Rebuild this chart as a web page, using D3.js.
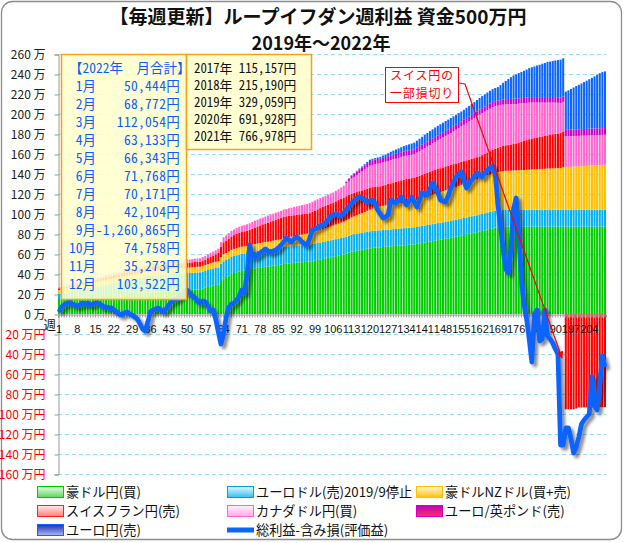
<!DOCTYPE html>
<html><head><meta charset="utf-8">
<script src="https://cdn.jsdelivr.net/npm/d3@7"></script>
<style>body{margin:0;background:#fff}svg{display:block}</style>
</head><body>
<svg id="c" width="624" height="543"></svg>
<script>
// ---------- DATA (values in 万円) ----------
const weeks = d3.range(1, 211);
const weekTicks = [1,8,15,22,29,36,43,50,57,64,71,78,85,92,99,106,113,120,127,134,141,148,155,162,169,176,183,190,197,204];
const yTicks = [-160,-140,-120,-100,-80,-60,-40,-20,0,20,40,60,80,100,120,140,160,180,200,220,240,260];

const audjpy = [15.0,15.2,15.4,15.6,15.8,16.0,16.2,16.4,16.5,16.7,
16.9,17.1,17.3,17.5,17.6,17.8,18.0,18.2,18.4,18.6,
18.8,18.9,19.1,19.3,19.5,19.7,19.9,20.0,20.2,20.4,
20.6,20.8,20.9,21.1,21.3,21.5,21.6,21.8,22.0,22.1,
22.3,22.5,22.7,22.8,23.0,23.2,23.4,23.5,23.7,23.9,
24.0,24.2,24.4,24.6,24.7,25.5,26.2,27.0,27.8,28.4,
29.0,29.5,33.0,35.7,37.0,38.5,40.0,41.0,41.8,42.5,
43.0,43.5,44.0,44.7,45.2,45.6,46.0,46.4,46.8,47.2,
47.5,47.9,48.3,48.7,49.0,49.4,50.0,50.3,50.6,50.9,
51.2,51.4,51.6,51.8,52.0,52.2,52.3,52.9,53.5,54.0,
54.5,55.0,55.6,56.1,56.7,57.3,57.8,58.4,59.0,59.6,
60.5,61.5,62.3,62.8,63.3,63.8,64.3,64.8,65.3,65.7,
66.0,66.3,66.5,66.7,67.0,67.2,67.4,67.6,67.9,68.1,
68.3,68.6,68.8,69.0,69.2,69.5,69.7,70.1,70.6,71.0,
71.5,72.0,72.4,72.9,73.4,73.9,74.3,74.8,75.3,75.7,
76.2,76.8,77.3,77.9,78.4,79.0,79.6,80.1,80.7,81.2,
81.8,82.3,83.0,83.7,84.4,85.0,85.7,86.3,86.8,87.0,
87.2,87.3,87.3,87.3,87.3,87.3,87.3,87.3,87.3,87.3,
87.3,87.3,87.3,87.3,87.3,87.3,87.3,87.3,87.3,87.3,
87.3,87.3,87.3,87.3,87.3,87.3,87.3,87.3,87.3,87.3,
87.3,87.3,87.3,87.3,87.3,87.3,87.3,87.3,87.3,87.3];

const eurusd = [5.0,5.3,5.7,6.0,6.3,6.7,7.0,7.4,7.7,8.0,
8.4,8.7,9.0,9.4,9.7,10.0,10.4,10.7,11.0,11.4,
11.7,12.0,12.4,12.7,13.0,13.4,13.7,14.0,14.4,14.7,
15.0,15.4,15.7,16.0,16.4,16.7,17.0,17.0,17.0,17.0,
17,17,17,17,17,17,17,17,17,17, 17,17,17,17,17,17,17,17,17,17,
17,17,17,17,17,17,17,17,17,17, 17,17,17,17,17,17,17,17,17,17,
17,17,17,17,17,17,17,17,17,17, 17,17,17,17,17,17,17,17,17,17,
17,17,17,17,17,17,17,17,17,17, 17,17,17,17,17,17,17,17,17,17,
17,17,17,17,17,17,17,17,17,17, 17,17,17,17,17,17,17,17,17,17,
17,17,17,17,17,17,17,17,17,17, 17,17,17,17,17,17,17,17,17,17,
17,17,17,17,17,17,17,17,17,17, 17,17,17,17,17,17,17,17,17,17,
17,17,17,17,17,17,17,17,17,17, 17,17,17,17,17,17,17,17,17,17,
17,17,17,17,17,17,17,17,17,17];

const audnzd = [4.0,4.0,4.1,4.1,4.2,4.2,4.2,4.3,4.3,4.4,
4.4,4.4,4.5,4.5,4.5,4.6,4.6,4.6,4.7,4.7,
4.7,4.8,4.8,4.8,4.9,4.9,4.9,5.0,5.0,5.0,
5.0,5.1,5.1,5.1,5.1,5.2,5.2,5.2,5.2,5.3,
5.3,5.3,5.3,5.4,5.4,5.4,5.4,5.5,5.5,5.5,
5.5,5.6,5.6,5.6,5.6,5.7,5.8,5.9,6.0,6.1,
6.2,6.4,6.7,7.0,7.0,7.0,7.1,7.1,7.1,7.1,
7.2,7.2,7.2,7.2,7.3,7.4,7.5,7.6,7.7,7.7,
7.8,7.9,8.0,8.1,8.2,8.3,8.4,8.7,9.0,9.3,
9.6,9.9,10.2,10.6,10.9,11.2,11.6,11.9,12.2,12.5,
12.8,13.1,13.4,13.7,14.0,14.3,14.7,15.1,15.5,15.9,
16.3,16.6,17.2,17.8,18.4,19.0,19.6,20.2,20.9,21.7,
22.3,22.9,23.5,24.0,24.2,24.4,24.6,24.8,25.0,25.2,
25.4,25.6,25.8,26.0,26.2,26.4,26.7,27.1,27.5,27.9,
28.3,28.7,29.1,29.5,29.9,30.3,30.6,30.9,31.3,31.7,
32.1,32.5,32.9,33.3,33.7,34.1,34.5,34.9,35.3,35.7,
36.2,36.7,36.9,37.1,37.4,37.6,37.8,38.0,38.2,38.4,
38.6,38.8,38.9,39.0,39.2,39.3,39.5,39.6,39.7,39.9,
40.0,40.2,40.3,40.5,40.6,40.8,40.9,41.1,41.2,41.4,
41.5,41.6,41.7,42.5,42.7,42.8,43.0,43.1,43.3,43.4,
43.6,43.7,43.9,44.0,44.2,44.3,44.5,44.6,44.8,45.0];

const chfjpy = [1.5,1.6,1.6,1.7,1.8,1.8,1.9,2.0,2.0,2.1,
2.2,2.2,2.3,2.4,2.4,2.5,2.6,2.6,2.7,2.8,
2.8,2.9,3.0,3.0,3.1,3.2,3.2,3.3,3.4,3.4,
3.5,3.6,3.6,3.7,3.8,3.8,3.9,4.0,4.0,4.1,
4.2,4.2,4.3,4.4,4.4,4.5,4.6,4.6,4.7,4.8,
4.8,4.9,5.0,5.0,5.0,5.3,5.6,6.0,6.5,7.0,
7.5,8.2,10.5,12.0,12.5,13.0,13.4,13.8,14.2,14.5,
14.8,15.0,15.0,15.2,15.8,16.5,17.0,17.6,18.1,18.6,
19.1,19.6,20.1,20.6,21.0,21.5,22.0,21.7,21.5,21.2,
21.0,20.8,20.6,20.4,20.2,20.0,20.0,20.4,20.8,21.2,
21.6,22.0,22.3,22.6,22.8,23.0,23.2,23.4,23.6,23.8,
24.0,24.0,23.8,23.5,23.2,23.0,22.7,22.5,22.2,22.0,
21.5,21.0,20.5,20.0,20.3,20.6,21.0,21.3,21.6,21.9,
22.2,22.5,22.8,23.0,23.0,23.0,23.0,23.1,23.2,23.3,
23.4,23.5,23.6,23.6,23.7,23.8,23.9,23.9,24.0,24.0,
23.8,23.6,23.4,23.2,23.0,22.8,22.6,22.4,22.2,22.0,
21.8,21.6,22.0,22.4,22.8,23.2,23.6,24.0,24.4,24.8,
25.2,25.6,26.0,26.3,26.5,27.0,27.7,28.4,29.0,29.7,
30.5,30.9,31.3,31.7,32.1,32.5,32.9,33.3,33.7,34.1,
34.4,34.7,35.0,35.3,-95.3,-95.3,-95.3,-95.3,-94.5,-93.5,
-93.5,-93.4,-93.4,-93.3,-93.3,-93.3,-93.2,-93.2,-93.2,-93.1];

const cadjpy = [1.0,1.0,1.1,1.1,1.2,1.2,1.3,1.3,1.4,1.4,
1.5,1.5,1.6,1.6,1.7,1.7,1.7,1.8,1.8,1.9,
1.9,2.0,2.0,2.0,2.1,2.1,2.2,2.2,2.3,2.3,
2.4,2.4,2.4,2.5,2.5,2.6,2.6,2.7,2.7,2.8,
2.8,2.8,2.9,2.9,3.0,3.0,3.1,3.1,3.2,3.2,
3.2,3.3,3.3,3.4,3.4,3.5,3.6,3.7,3.8,3.9,
4.0,4.2,4.6,5.0,5.2,5.4,5.6,5.8,6.0,6.2,
6.3,6.4,6.5,6.6,6.7,6.8,6.8,6.9,6.9,7.0,
7.0,7.0,7.0,7.0,7.0,7.0,7.0,7.3,7.6,7.9,
8.2,8.5,8.8,9.1,9.4,9.7,10.0,10.0,10.0,10.0,
10.0,10.0,10.0,10.0,10.0,10.0,10.5,11.0,11.5,12.0,
13.0,14.0,15.0,16.0,17.0,18.0,19.0,20.0,21.0,22.0,
22.3,22.5,22.8,23.0,23.0,23.0,23.0,23.1,23.1,23.1,
23.2,23.2,23.2,23.3,23.3,23.3,23.4,24.0,24.6,25.2,
25.7,26.3,26.9,27.5,28.1,28.7,29.3,29.9,30.5,31.0,
31.9,32.8,33.7,34.6,35.4,36.3,37.2,38.1,39.0,39.9,
40.8,41.7,42.0,42.2,42.4,42.6,42.7,42.4,42.0,41.6,
41.3,40.9,40.6,40.3,40.0,39.4,38.9,38.3,37.8,37.2,
36.7,36.1,35.6,35.0,34.4,33.9,33.3,32.8,32.2,31.7,
31.1,30.6,30.0,30.0,30.6,30.6,30.5,30.5,30.5,30.4,
30.4,30.4,30.3,30.3,30.3,30.2,30.2,30.1,30.1,30.0];

const eurgbp = [0,0,0,0,0,0,0,0,0,0, 0,0,0,0,0,0,0,0,0,0, 0,0,0,0,0,0,0,0,0,0,
0,0,0,0,0,0,0,0,0,0, 0,0,0,0,0,0,0,0,0,0, 0,0,0,0,0,0,0,0,0,0,
0,0,0,0,0,0,0,0,0,0, 0,0,0,0,0,0,0,0,0,0, 0,0,0,0,0,0,0,0,0,0,
0,0,0,0,0,0,0,0,0,0, 0,0,0,0,0,0,0,0,0,0,
1.5,2.4,3.0,3.3,3.6,3.9,4.1,4.3,4.5,4.6,
4.7,4.7,4.7,4.8,4.8,4.8,4.8,4.9,4.9,4.9,
4.9,4.9,5.0,5.0,5.0,5.0,5.0,5.0,5.0,5.0,
5.0,5.0,5.0,5.0,5.0,5.0,5.0,5.0,5.0,5.0,
5.0,5.0,5.0,5.0,5.0,5.0,5.0,5.0,5.0,5.0,
5.0,5.0,5.0,5.0,5.0,5.0,5.1,5.1,5.1,5.1,
5.2,5.2,5.2,5.2,5.3,5.3,5.3,5.3,5.3,5.3,
5.4,5.4,5.4,5.4,5.4,5.5,5.5,5.5,5.5,5.5,
5.6,5.6,5.6,5.6,6.5,6.5,6.5,6.6,6.6,6.6,
6.6,6.6,6.6,6.7,6.7,6.7,6.7,6.7,6.7,6.7];

const eurjpy = [0,0,0,0,0,0,0,0,0,0, 0,0,0,0,0,0,0,0,0,0, 0,0,0,0,0,0,0,0,0,0,
0,0,0,0,0,0,0,0,0,0, 0,0,0,0,0,0,0,0,0,0, 0,0,0,0,0,0,0,0,0,0,
0,0,0,0,0,0,0,0,0,0, 0,0,0,0,0,0,0,0,0,0, 0,0,0,0,0,0,0,0,0,0,
0,0,0,0,0,0,0,0,0,0, 0,0,0,0,0,0,0,0,0,0,
0,0,0.5,0.6,0.7,0.8,0.9,1.0,1.2,1.3,
1.4,1.5,1.6,1.7,2.2,2.6,3.0,3.5,3.9,4.3,
4.6,5.0,5.3,5.6,6.0,6.3,6.6,7.0,7.4,7.8,
8.2,8.6,9.0,9.2,9.4,9.5,9.7,9.8,9.9,10.0,
10.0,10.0,10.0,10.0,10.0,10.0,10.3,10.6,10.9,11.1,
11.4,11.7,12.0,12.3,12.5,12.8,13.0,13.2,13.4,15.0,
16.7,18.3,20.0,21.7,23.3,24.3,25.2,26.2,27.1,28.1,
29.0,29.9,30.7,31.6,32.4,33.3,34.1,35.0,35.5,36.1,
36.6,37.2,37.7,38.0,38.3,39.5,40.8,42.0,43.3,44.5,
45.7,47.0,48.2,49.5,50.7,52.1,53.6,55.1,56.0,56.6];

const totalProfit = [2,7,9,11,12,10,9,8,9,11,
10,11,9,10,11,11,9,7,7,6,
6,4,2,0,-1,1,2,0,-1,-3,
-5,-10,-15,-17,-8,2,4,5,6,4,
2,5,9,12,14,15,17,19,22,24,
21,18,16,13,11,13,12,8,3,4,
-5,-18,-30,-20,-3,7,10,11,14,18,
24,21,40,69,58,57,59,61,63,65,
63,62,63,64,66,69,72,76,74,72,
75,77,75,72,70,69,76,84,85,86,
88,89,91,94,98,99,100,99,98,101,
104,107,111,113,116,117,116,114,112,113,
114,110,104,100,96,97,99,114,112,111,
114,117,113,109,113,117,112,107,114,121,
120,119,125,131,126,122,114,113,112,118,
126,132,137,140,142,134,126,130,134,137,
141,139,137,141,144,146,148,140,110,88,
65,45,41,65,105,116,80,35,10,-5,
-25,-48,0,4,-27,-25,4,-22,-25,-29,
-35,-40,-131,-131,-114,-114,-125,-139,-133,-123,
-110,-106,-103,-100,-63,-92,-96,-70,-42,-53];

const seriesNames = ["豪ドル円(買)","ユーロドル(売)2019/9停止","豪ドルNZドル(買+売)","スイスフラン円(売)","カナダドル円(買)","ユーロ/英ポンド(売)","ユーロ円(売)"];
const lineName = "総利益-含み損(評価益)";
const monthLabels = ["1月","2月","3月","4月","5月","6月","7月","8月","9月","10月","11月","12月"];
const monthTotals = ["50,444円","68,772円","112,054円","63,133円","66,343円","71,768円","70,171円","42,104円","-1,260,865円","74,758円","35,273円","103,522円"];
const yearLabels = ["2017年","2018年","2019年","2020年","2021年"];
const yearTotals = ["115,157円","215,190円","329,059円","691,928円","766,978円"];

// ---------- DRAW ----------
const svg = d3.select('#c');
const defs = svg.append('defs');
const CJK = "'Noto Sans CJK JP','Noto Sans',sans-serif";
const MONO = "'Noto Sans Mono CJK JP','Noto Sans CJK JP',monospace";

svg.append('rect').attr('x',1.5).attr('y',1.5).attr('width',620).attr('height',538).attr('rx',11)
  .attr('fill','#fff').attr('stroke','#8c8c8c').attr('stroke-width',1.3);

svg.append('text').attr('x',318).attr('y',24).attr('text-anchor','middle')
  .attr('font-family',CJK).attr('font-size',19).attr('font-weight','bold').attr('fill','#111')
  .text('【毎週更新】ループイフダン週利益 資金500万円');
svg.append('text').attr('x',321).attr('y',50).attr('text-anchor','middle')
  .attr('font-family',CJK).attr('font-size',18).attr('font-weight','bold').attr('fill','#111')
  .text('2019年～2022年');

const x = d3.scaleBand().domain(weeks).range([58,606]).paddingInner(0.22).paddingOuter(0);
const y = d3.scaleLinear().domain([-160,260]).range([474,54]);
const bw = x.bandwidth();

// grid
svg.append('g').selectAll('line').data(yTicks.filter(v=>v!==0)).join('line')
  .attr('x1',58).attr('x2',606).attr('y1',d=>y(d)+0.5).attr('y2',d=>y(d)+0.5)
  .attr('stroke','#93dff2').attr('stroke-width',1).attr('stroke-dasharray','4,3');

// y axis
const yAxis = svg.append('g').attr('transform','translate(58.5,0.5)')
  .call(d3.axisLeft(y).tickValues(yTicks).tickSize(4).tickFormat(d=> d<0 ? `${-d} 万円` : `${d} 万`));
yAxis.select('.domain').attr('stroke','#999');
yAxis.selectAll('.tick line').attr('stroke','#999');
yAxis.selectAll('.tick text').attr('x',-13).attr('font-family',CJK).attr('font-size',12)
  .attr('fill',d=> d<0 ? '#ff0000' : '#222');

// stacked bars
const keys = ['g','lb','o','r','p','m','b'];
const srcs = [audjpy,eurusd,audnzd,chfjpy,cadjpy,eurgbp,eurjpy];
const table = weeks.map((w,i)=>{const row={w}; keys.forEach((k,j)=>row[k]=srcs[j][i]); return row;});
const colors = {g:'#00cc00',lb:'#00b0f0',o:'#ffc000',r:'#ff0000',p:'#ff66cc',m:'#cc00cc',b:'#0a64ff'};
const stack = d3.stack().keys(keys).offset(d3.stackOffsetDiverging)(table);
svg.append('g').selectAll('g').data(stack).join('g').attr('fill',d=>colors[d.key])
  .selectAll('rect').data(d=>d.filter(s=>s[1]!==s[0])).join('rect')
  .attr('x',d=>x(d.data.w)).attr('width',bw)
  .attr('y',d=>y(Math.max(d[0],d[1]))).attr('height',d=>Math.abs(y(d[0])-y(d[1])));

// x axis
const xAxisG = svg.append('g').attr('transform',`translate(0,${y(0)+0.5})`)
  .call(d3.axisBottom(x).tickValues(weeks).tickSize(3).tickFormat(''));
xAxisG.select('.domain').attr('stroke','#999');
xAxisG.selectAll('.tick line').attr('stroke','#999');
svg.append('g').selectAll('text').data(weekTicks).join('text')
  .attr('x',d=>x(d)+bw/2).attr('y',y(0)+19).attr('text-anchor','middle')
  .attr('font-family',"'Liberation Sans',Arial,sans-serif").attr('font-size',11).attr('fill','#111').text(d=>d);
svg.append('text').attr('x',56).attr('y',330).attr('text-anchor','end').attr('font-family',CJK)
  .attr('font-size',12.5).attr('fill','#111').text('週');

// total line with shadow
const sh = defs.append('filter').attr('id','sh').attr('x','-10%').attr('y','-10%').attr('width','130%').attr('height','130%');
sh.append('feDropShadow').attr('dx',3).attr('dy',3).attr('stdDeviation',1.8).attr('flood-color','#000').attr('flood-opacity',0.45);
const line = d3.line().x((d,i)=>x(weeks[i])+bw/2).y(d=>y(d));
svg.append('path').datum(totalProfit).attr('d',line).attr('fill','none')
  .attr('stroke','#0a64ff').attr('stroke-width',4.8).attr('stroke-linejoin','round').attr('filter','url(#sh)');

// arrow annotation
defs.append('marker').attr('id','ah').attr('viewBox','0 0 10 10').attr('refX',9).attr('refY',5)
  .attr('markerWidth',6).attr('markerHeight',6).attr('orient','auto')
  .append('path').attr('d','M0,0L10,5L0,10z').attr('fill','#ff0000');
svg.append('path').attr('d','M459,83L465,84L562,358').attr('fill','none').attr('stroke','#ff0000')
  .attr('stroke-width',1.2).attr('marker-end','url(#ah)');
svg.append('rect').attr('x',385.5).attr('y',67.5).attr('width',73).attr('height',35)
  .attr('fill','#fff').attr('stroke','#ff0000').attr('stroke-width',1);
svg.append('text').attr('x',422).attr('y',80).attr('text-anchor','middle').attr('font-family',CJK)
  .attr('font-size',12).attr('letter-spacing',0.8).attr('fill','#ff0000').text('スイス円の');
svg.append('text').attr('x',422).attr('y',97.5).attr('text-anchor','middle').attr('font-family',CJK)
  .attr('font-size',12).attr('letter-spacing',0.8).attr('fill','#ff0000').text('一部損切り');

// info boxes
svg.append('rect').attr('x',61.5).attr('y',54.5).attr('width',125).attr('height',245)
  .attr('fill','#ffffcc').attr('fill-opacity',0.86).attr('stroke','#f5a11c').attr('stroke-width',1.5);
svg.append('rect').attr('x',186.5).attr('y',54.5).attr('width',125).attr('height',95)
  .attr('fill','#ffffcc').attr('fill-opacity',0.9).attr('stroke','#f5a11c').attr('stroke-width',1.5);
const boxBlue = '#0a5cff';
svg.append('text').attr('x',69).attr('y',72.5).attr('font-family',MONO).attr('font-size',13.5)
  .attr('fill',boxBlue).text('【2022年　月合計】');
monthLabels.forEach((m,i)=>{
  const yy = 90.8 + i*18.05;
  svg.append('text').attr('x',96).attr('y',yy).attr('text-anchor','end').attr('font-family',MONO)
    .attr('font-size',13.5).attr('fill',boxBlue).text(m);
  svg.append('text').attr('x',180).attr('y',yy).attr('text-anchor','end').attr('font-family',MONO)
    .attr('font-size',13.5).attr('letter-spacing',0.3).attr('fill',boxBlue).text(monthTotals[i]);
});
yearLabels.forEach((yl,i)=>{
  svg.append('text').attr('x',194).attr('y',72.5+i*17.1).attr('font-family',MONO)
    .attr('font-size',12.8).attr('fill','#111').text(`${yl} ${yearTotals[i]}`);
});

// legend
const legendDefs = [
  {name:seriesNames[0], stroke:'#00cc00', c0:'#e6ffe6', c1:'#5cd65c', x:37, y:492},
  {name:seriesNames[1], stroke:'#00a0e0', c0:'#e6f8ff', c1:'#33bff0', x:227, y:492},
  {name:seriesNames[2], stroke:'#ffc000', c0:'#fff8dd', c1:'#ffc000', x:416, y:492},
  {name:seriesNames[3], stroke:'#ff2020', c0:'#ffe8e8', c1:'#ff8080', x:37, y:511},
  {name:seriesNames[4], stroke:'#ff66cc', c0:'#fff0fa', c1:'#ffaaea', x:227, y:511},
  {name:seriesNames[5], stroke:'#cc00cc', c0:'#c000c0', c1:'#ff3355', x:416, y:511},
  {name:seriesNames[6], stroke:'#0a64ff', c0:'#1f2fa8', c1:'#a8b8ff', x:37, y:530}
];
const lg = svg.append('g');
legendDefs.forEach((d,i)=>{
  const gid = 'lg'+i;
  const gr = defs.append('linearGradient').attr('id',gid).attr('x1',0).attr('y1',0).attr('x2',0).attr('y2',1);
  gr.append('stop').attr('offset','0%').attr('stop-color',d.c0);
  gr.append('stop').attr('offset','100%').attr('stop-color',d.c1);
  lg.append('rect').attr('x',d.x+0.5).attr('y',d.y-5.5).attr('width',26).attr('height',11)
    .attr('fill',`url(#${gid})`).attr('stroke',d.stroke).attr('stroke-width',1);
  lg.append('text').attr('x',d.x+29).attr('y',d.y+5).attr('font-family',CJK).attr('font-size',13.2)
    .attr('fill','#111').text(d.name);
});
lg.append('line').attr('x1',227).attr('x2',254).attr('y1',530).attr('y2',530)
  .attr('stroke','#0a64ff').attr('stroke-width',5);
lg.append('text').attr('x',256).attr('y',535).attr('font-family',CJK).attr('font-size',13.2)
  .attr('fill','#111').text(lineName);
</script>
</body></html>
